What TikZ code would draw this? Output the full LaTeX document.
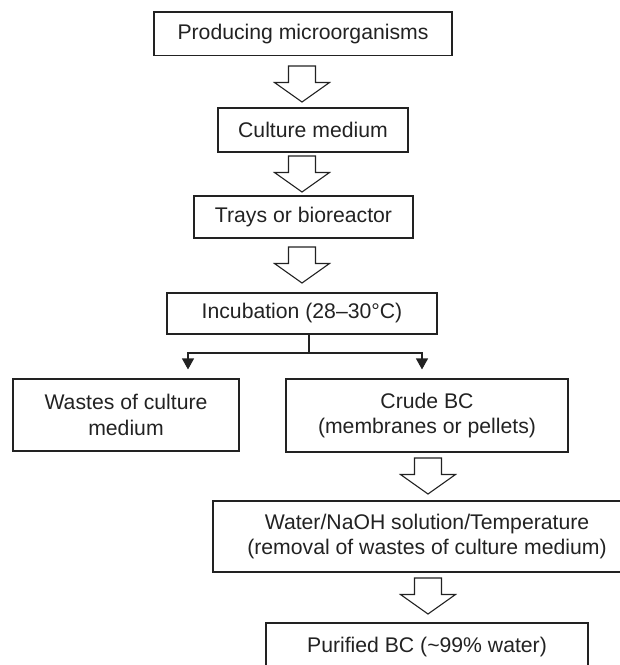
\documentclass[tikz,border=0pt]{standalone}
\usepackage{fontspec}
\setmainfont{Liberation Sans}
\usetikzlibrary{arrows.meta,calc}
\definecolor{ink}{HTML}{222222}
\begin{document}
\begin{tikzpicture}[x=1pt,y=-1pt,
  box/.style={draw=ink,line width=1.1pt,rectangle,inner sep=0pt,align=center,text=ink,
    font=\fontsize{21.2}{25.5}\selectfont},
  conn/.style={draw=ink,line width=1.1pt},
  tipconn/.style={conn,-{Triangle[width=12pt,length=11pt]},shorten >=9pt},
  blockarrow/.pic={\draw[draw=ink,line width=1.1pt,line join=miter]
     (-13.5,0) -- (13.5,0) -- (13.5,16.5) -- (27.5,16.5) -- (0,36) -- (-27.5,16.5) -- (-13.5,16.5) -- cycle;}]
\useasboundingbox (0,0) rectangle (620,665);
\clip (0,0) rectangle (620,665);

\node[box,minimum width=298pt,minimum height=43.5pt] (b1) at (303,33.75) {Producing microorganisms};
\node[box,minimum width=190pt,minimum height=44pt] (b2) at (313,130) {Culture medium};
\node[box,minimum width=219pt,minimum height=42pt] (b3) at (303.5,217) {Trays or bioreactor};
\node[box,minimum width=270pt,minimum height=41pt] (b4) at (302,313.5) {Incubation (28–30°C)};
\node[box,minimum width=226pt,minimum height=72pt] (b5) at (126,415) {Wastes of culture\\medium};
\node[box,minimum width=282pt,minimum height=73pt] (b6) at (427,415.5) {Crude BC\\(membranes or pellets)};
\node[box,minimum width=428pt,minimum height=71pt] (b7) at (427,536.5) {Water/NaOH solution/Temperature\\(removal of wastes of culture medium)};
\node[box,minimum width=322pt,minimum height=48pt] (b8) at (427,647) {Purified BC (\textasciitilde99\% water)};

\coordinate (a1) at (302,66);
\coordinate (a2) at (302,156);
\coordinate (a3) at (302,247);
\coordinate (a4) at (428,458);
\coordinate (a5) at (428,578);
\pic at (a1) {blockarrow};
\pic at (a2) {blockarrow};
\pic at (a3) {blockarrow};
\pic at (a4) {blockarrow};
\pic at (a5) {blockarrow};

\coordinate (split) at (309,353);
\draw[conn] (b4.south -| split) -- (split);
\draw[tipconn] (split) -| ($(b5.north)+(62,0)$);
\draw[tipconn] (split) -| ($(b6.north)+(-5,0)$);
\end{tikzpicture}
\end{document}
